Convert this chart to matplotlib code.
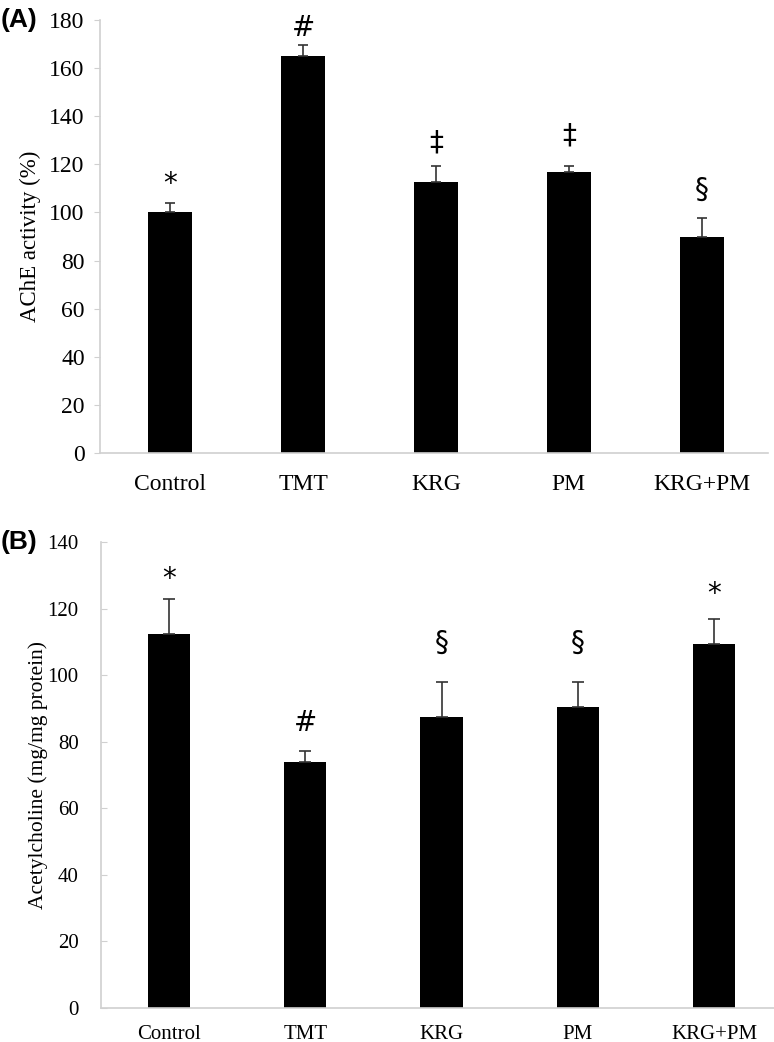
import numpy as np
import matplotlib.pyplot as plt

groups = ['Control', 'TMT', 'KRG', 'PM', 'KRG+PM']

# (A) AChE activity
ache = [100.3, 165.0, 112.8, 117.0, 89.8]
ache_err = [3.5, 4.5, 6.5, 2.2, 7.9]
ache_marks = ['*', '#', '‡', '‡', '§']
ache_mark_y = [112.0, 176.5, 129.0, 132.0, 109.5]

# (B) Acetylcholine
ach = [112.5, 74.0, 87.5, 90.3, 109.5]
ach_err = [10.5, 3.3, 10.5, 7.7, 7.5]
ach_marks = ['*', '#', '§', '§', '*']
ach_mark_y = [129.0, 85.7, 109.8, 109.8, 124.5]

W, H = 774, 1042
fig = plt.figure(figsize=(W / 100, H / 100), dpi=100)

serif = 'Liberation Serif'
grey = '#d0d0d0'


def style_axes(ax, tick_size, ypad, xpad, tick_dir):
    for s in ['top', 'right']:
        ax.spines[s].set_visible(False)
    for s in ['left', 'bottom']:
        ax.spines[s].set_color(grey)
        ax.spines[s].set_linewidth(1.2)
    ax.tick_params(axis='y', direction=tick_dir, length=4, color=grey,
                   labelsize=tick_size, pad=ypad)
    ax.tick_params(axis='x', length=0, labelsize=tick_size, pad=xpad)
    for lab in ax.get_xticklabels() + ax.get_yticklabels():
        lab.set_fontfamily(serif)


# panel A
axA = fig.add_axes([100 / W, 1 - 453 / H, 668 / W, 433 / H])
x = np.arange(len(groups))
axA.bar(x, ache, width=0.33, color='black')
axA.errorbar(x, ache, yerr=[np.zeros(len(x)), ache_err], fmt='none',
             ecolor='#333333', elinewidth=1.2, capsize=3.5, capthick=1.2)
for xi, m, y in zip(x, ache_marks, ache_mark_y):
    axA.text(xi, y, m, ha='center', va='center', fontsize=20,
             fontfamily='DejaVu Sans')
axA.set_xlim(-0.53, 4.5)
axA.set_ylim(0, 180)
axA.set_yticks(np.arange(0, 181, 20))
axA.set_xticks(x)
axA.set_xticklabels(groups)
axA.set_ylabel('AChE activity (%)', fontfamily=serif, fontsize=16.5, labelpad=6)
style_axes(axA, 17, 7, 15, 'out')
fig.text(1 / W, 1 - 20 / H, '(A)', fontsize=19, fontweight='bold',
         ha='left', va='center', fontfamily='Liberation Sans')

# panel B
axB = fig.add_axes([101 / W, 1 - 1008 / H, 673 / W, 466 / H])
axB.bar(x, ach, width=0.31, color='black')
axB.errorbar(x, ach, yerr=[np.zeros(len(x)), ach_err], fmt='none',
             ecolor='#333333', elinewidth=1.2, capsize=4, capthick=1.2)
for xi, m, y in zip(x, ach_marks, ach_mark_y):
    axB.text(xi, y, m, ha='center', va='center', fontsize=20,
             fontfamily='DejaVu Sans')
axB.set_xlim(-0.5, 4.44)
axB.set_ylim(0, 140)
axB.set_yticks(np.arange(0, 141, 20))
axB.set_xticks(x)
axB.set_xticklabels(groups)
axB.set_ylabel('Acetylcholine (mg/mg protein)', fontfamily=serif,
               fontsize=15.5, labelpad=0)
style_axes(axB, 15, 16, 12, 'in')
fig.text(1 / W, 1 - 542 / H, '(B)', fontsize=19, fontweight='bold',
         ha='left', va='center', fontfamily='Liberation Sans')

fig.savefig('out.png', dpi=100)
